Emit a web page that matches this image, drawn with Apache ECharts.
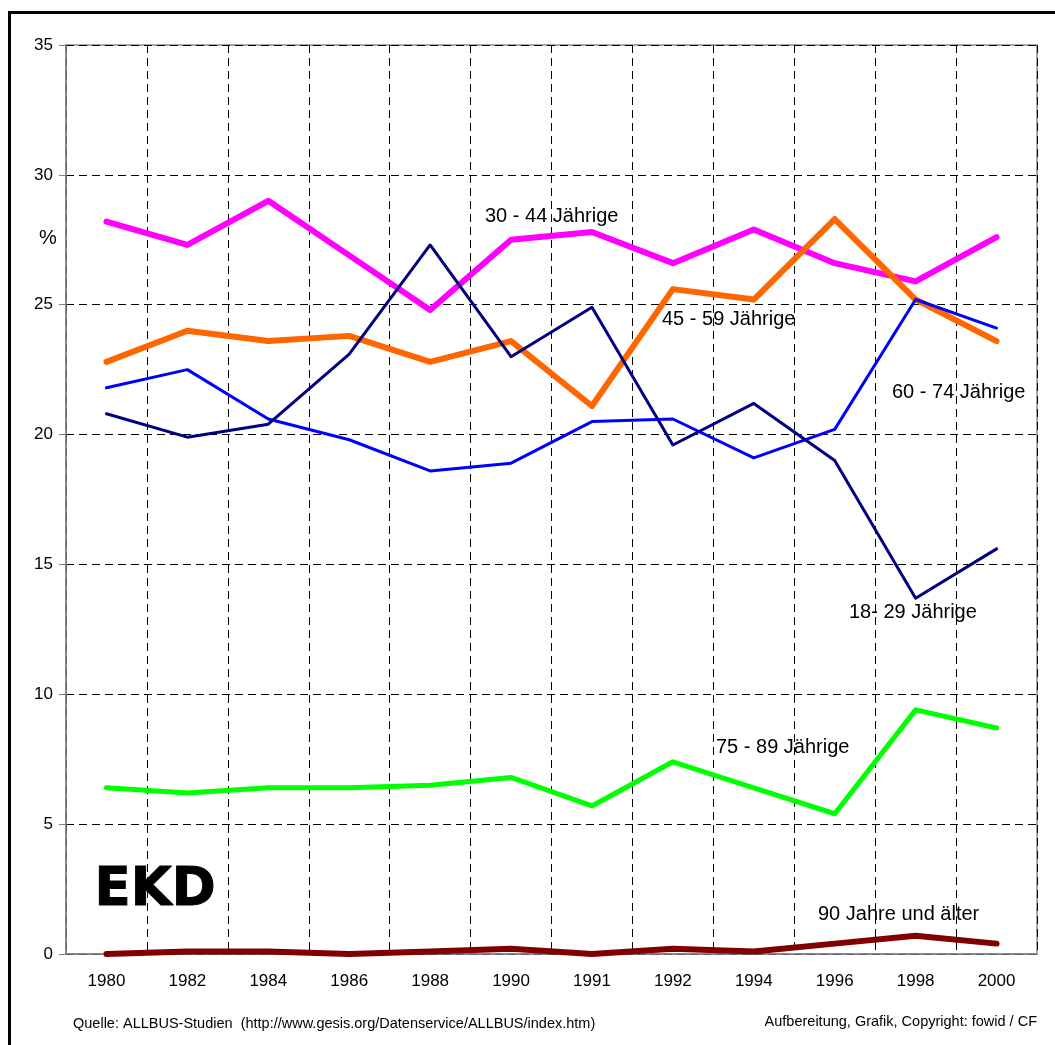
<!DOCTYPE html>
<html>
<head>
<meta charset="utf-8">
<script src="https://cdn.jsdelivr.net/npm/echarts@6/dist/echarts.min.js"></script>
<style>
  html, body { margin: 0; padding: 0; background: #fff; }
</style>
</head>
<body>
<div id="main" style="width:1055px;height:1045px"></div>
<script>
const years = ['1980', '1982', '1984', '1986', '1988', '1990', '1991', '1992', '1994', '1996', '1998', '2000'];
const age18to29 = [20.8, 19.9, 20.4, 23.1, 27.3, 23.0, 24.9, 19.6, 21.2, 19.0, 13.7, 15.6];
const age30to44 = [28.2, 27.3, 29.0, 26.9, 24.8, 27.5, 27.8, 26.6, 27.9, 26.6, 25.9, 27.6];
const age45to59 = [22.8, 24.0, 23.6, 23.8, 22.8, 23.6, 21.1, 25.6, 25.2, 28.3, 25.2, 23.6];
const age60to74 = [21.8, 22.5, 20.6, 19.8, 18.6, 18.9, 20.5, 20.6, 19.1, 20.2, 25.2, 24.1];
const age75to89 = [6.4, 6.2, 6.4, 6.4, 6.5, 6.8, 5.7, 7.4, 6.4, 5.4, 9.4, 8.7];
const age90plus = [0.0, 0.1, 0.1, 0.0, 0.1, 0.2, 0.0, 0.2, 0.1, 0.4, 0.7, 0.4];

const font = 'Liberation Sans, Arial, sans-serif';
const myChart = echarts.init(document.getElementById('main'));

function line(name, data, color, width) {
  return {
    name: name,
    type: 'line',
    data: data,
    symbol: 'none',
    lineStyle: { color: color, width: width, cap: 'round', join: 'round' },
    itemStyle: { color: color },
    z: 3
  };
}

// freie Beschriftungen im Diagramm
function txt(left, top, text, size, extra) {
  return {
    type: 'text', left: left, top: top, z: 10,
    style: Object.assign({ text: text, fill: '#000', font: size + 'px ' + font }, extra || {})
  };
}

const option = {
  animation: false,
  backgroundColor: '#fff',
  grid: {
    left: 66, top: 45, right: 18, bottom: 91,
    show: true, borderColor: '#8a8a8a', borderWidth: 1.5
  },
  xAxis: {
    type: 'category',
    data: years,
    boundaryGap: true,
    axisLine: { lineStyle: { color: '#808080', width: 1.5 } },
    axisTick: { show: false },
    axisLabel: { color: '#000', fontFamily: font, fontSize: 17, margin: 19 },
    splitLine: { show: true, lineStyle: { color: '#000', type: [8, 5], width: 1 } }
  },
  yAxis: {
    type: 'value',
    min: 0, max: 35, interval: 5,
    axisLine: { show: true, lineStyle: { color: '#808080', width: 1.5 } },
    axisTick: { show: true, length: 7, lineStyle: { color: '#808080' } },
    axisLabel: { color: '#000', fontFamily: font, fontSize: 17, margin: 13 },
    splitLine: { show: true, lineStyle: { color: '#000', type: [8, 5], width: 1 } }
  },
  series: [
    line('30 - 44 Jährige', age30to44, '#ff00ff', 6),
    line('45 - 59 Jährige', age45to59, '#ff6600', 6),
    line('60 - 74 Jährige', age60to74, '#0000ff', 3),
    line('18- 29 Jährige', age18to29, '#000080', 3),
    line('75 - 89 Jährige', age75to89, '#00ff00', 5),
    line('90 Jahre und älter', age90plus, '#800000', 6)
  ],
  graphic: [
    { type: 'rect', left: 7, top: 10, z: 0, silent: true,
      shape: { width: 1100, height: 1100 },
      style: { fill: 'none', stroke: '#000', lineWidth: 3 } },
    txt(39, 228, '%', 20),
    txt(485, 206, '30 - 44 Jährige', 20),
    txt(662, 309, '45 - 59 Jährige', 20),
    txt(892, 382, '60 - 74 Jährige', 20),
    txt(849, 602, '18- 29 Jährige', 20),
    txt(716, 737, '75 - 89 Jährige', 20),
    txt(818, 904, '90 Jahre und älter', 20),
    txt(94, 864, 'EKD', 53, { font: 'bold 53px DejaVu Sans, sans-serif', stroke: '#000', lineWidth: 1 }),
    txt(73, 1016, 'Quelle: ALLBUS-Studien  (http://www.gesis.org/Datenservice/ALLBUS/index.htm)', 14.5),
    { type: 'text', right: 18, top: 1014, z: 10,
      style: { text: 'Aufbereitung, Grafik, Copyright: fowid / CF', fill: '#000', font: '14.5px ' + font } }
  ]
};

myChart.setOption(option);
</script>
</body>
</html>
